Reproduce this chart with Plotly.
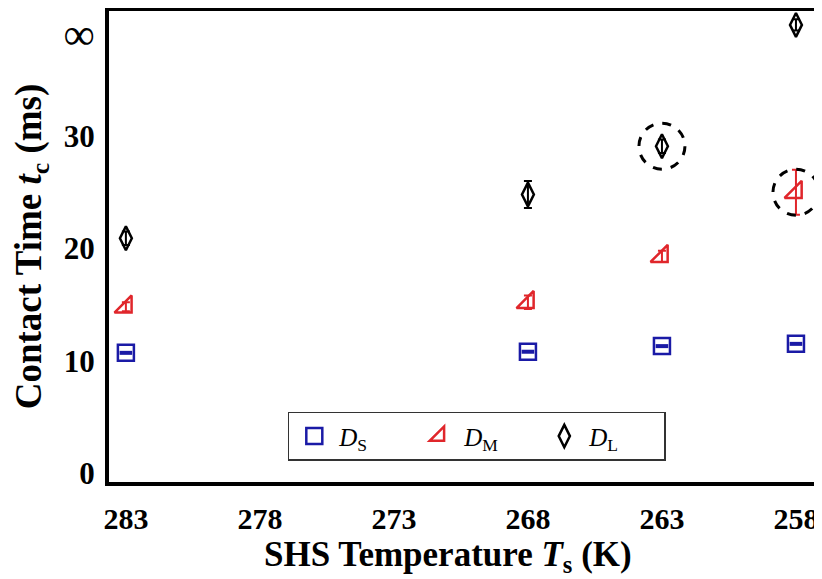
import plotly.graph_objects as go

# Data
temps = [283, 268, 263, 258]
ds_vals = [10.7, 10.8, 11.3, 11.5]
ds_err = [0.3, 0.3, 0.3, 0.3]
dm_vals = [14.8, 15.2, 19.3, 25.0]
dm_err = [0.4, 0.6, 0.5, 2.0]
dl_vals = [20.9, 24.8, 29.1, 39.9]
dl_err = [0.6, 1.2, 0.6, 0.5]

xtick_vals = [283, 278, 273, 268, 263, 258]
ytick_vals = [0, 10, 20, 30, 38.7]
ytick_text = ["0", "10", "20", "30",
              "<span style='font-size:44px;font-weight:normal'>∞</span>"]

x_title = "<b>SHS Temperature <i>T</i><sub>s</sub> (K)</b>"
y_title = "<b>Contact Time <i>t</i><sub>c</sub> (ms)</b>"

circled_x = [263, 258]
circled_y = [29.1, 25.0]

SERIF = "Liberation Serif, Times New Roman, serif"
BLUE = "#1a1aa6"
RED = "#e0262b"
BLACK = "#000000"

fig = go.Figure()

fig.add_trace(go.Scatter(
    x=temps, y=ds_vals, mode="markers", name="<i>D</i><sub>S</sub>",
    marker=dict(symbol="square-open", size=16, color=BLUE, line=dict(width=2.5, color=BLUE)),
))
fig.add_trace(go.Scatter(
    x=temps, y=ds_vals, mode="markers", showlegend=False, hoverinfo="skip",
    marker=dict(symbol="line-ew", size=9, color=BLUE, line=dict(width=4, color=BLUE)),
))
fig.add_trace(go.Scatter(
    x=temps, y=dm_vals, mode="markers", name="<i>D</i><sub>M</sub>",
    error_y=dict(type="data", array=dm_err, color=RED, thickness=2, width=4),
    marker=dict(symbol="triangle-se-open", size=19, color=RED, line=dict(width=2.5, color=RED)),
))
fig.add_trace(go.Scatter(
    x=temps, y=dl_vals, mode="markers", name="<i>D</i><sub>L</sub>",
    error_y=dict(type="data", array=dl_err, color=BLACK, thickness=2, width=4),
    marker=dict(symbol="diamond-tall-open", size=17, color=BLACK, line=dict(width=2.5, color=BLACK)),
))

for cx, cy in zip(circled_x, circled_y):
    fig.add_shape(
        type="circle", xref="x", yref="y", xsizemode="pixel", ysizemode="pixel",
        xanchor=cx, yanchor=cy, x0=-23, x1=23, y0=-23, y1=23,
        line=dict(color=BLACK, width=3, dash="dash"),
    )

fig.add_annotation(
    text=x_title, xref="paper", yref="paper", x=0.47, y=-0.158,
    xanchor="center", yanchor="middle", showarrow=False,
    font=dict(family=SERIF, size=35, color="black"),
)

fig.update_layout(
    width=822, height=579,
    margin=dict(l=101, r=0, t=3, b=105, autoexpand=False),
    plot_bgcolor="white", paper_bgcolor="white",
    font=dict(family=SERIF, color="black"),
    showlegend=True,
    legend=dict(
        orientation="h", x=0.248, y=0.149, xanchor="left", yanchor="top",
        bordercolor="#333333", borderwidth=1.5, bgcolor="white",
        font=dict(family=SERIF, size=25, color="black"),
        entrywidth=70, entrywidthmode="pixels", itemwidth=40,
    ),
)

fig.update_xaxes(
    range=[283.63, 256.73], tickmode="array", tickvals=xtick_vals,
    showgrid=False, zeroline=False, showline=True, linewidth=4, linecolor="black",
    mirror=True, ticks="", ticklabelstandoff=7, automargin=False,
    tickfont=dict(family=SERIF, size=30, color="black", weight="bold"),
)
fig.update_yaxes(
    range=[-0.8, 41.14], tickmode="array", tickvals=ytick_vals, ticktext=ytick_text,
    showgrid=False, zeroline=False, showline=True, linewidth=4, linecolor="black",
    mirror=False, ticks="", ticklabelstandoff=4, automargin=False,
    tickfont=dict(family=SERIF, size=31, color="black", weight="bold"),
    title=dict(text=y_title, standoff=13,
               font=dict(family=SERIF, size=37, color="black")),
)

fig.write_html("out.html")
